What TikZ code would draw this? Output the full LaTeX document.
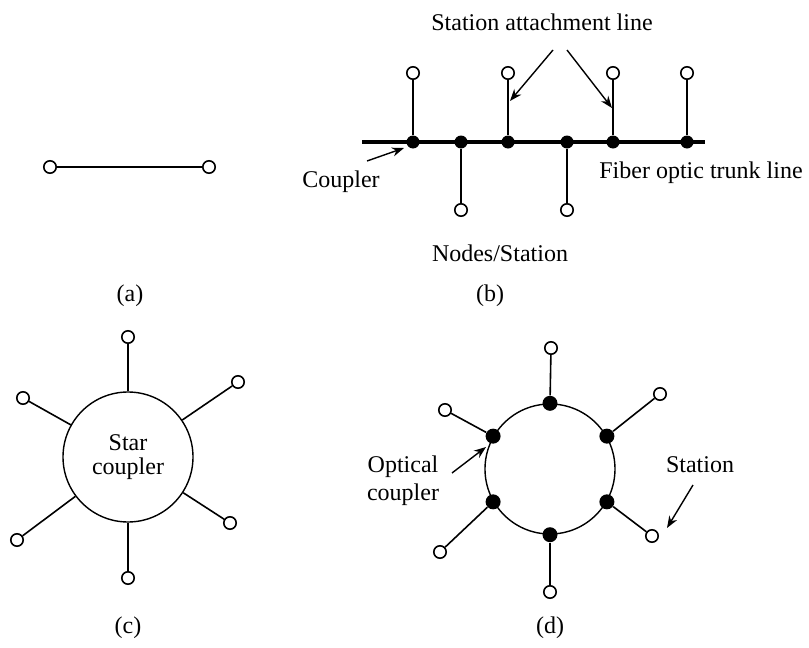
\documentclass[tikz,border=0pt]{standalone}
\usepackage{fontspec}
\setmainfont{Liberation Serif}
\usepackage{tikz}
\usetikzlibrary{arrows.meta, positioning}

\tikzset{
  station/.style={circle, draw, fill=white, line width=0.8pt, minimum size=6.2pt, inner sep=0pt},
  coupler/.style={circle, fill=black, minimum size=6.5pt, inner sep=0pt},
  ringcoupler/.style={circle, fill=black, minimum size=7.5pt, inner sep=0pt},
  link/.style={line width=0.8pt},
  pointer/.style={-{Stealth[length=6pt,width=4.5pt]}, line width=0.7pt},
  lbl/.style={font=\fontsize{12}{14}\selectfont, inner sep=0pt, align=center}
}

\begin{document}
\begin{tikzpicture}[x=0.5pt, y=-0.5pt]
    \useasboundingbox (0,0) rectangle (809,648);

    % (a) point to point
    \node[station] (a1) at (50,167) {};
    \node[station] (a2) at (209,167) {};
    \draw[link] (a1) -- (a2);
    \node[lbl] (capa) at (130,296) {(a)};

    % (b) bus
    \coordinate (tl) at (362,142);
    \coordinate (tr) at (705,142);
    \draw[line width=1.8pt] (tl) -- (tr);
    \node[coupler] (b1) at (413,142) {};
    \node[coupler] (b2) at (461,142) {};
    \node[coupler] (b3) at (508,142) {};
    \node[coupler] (b4) at (567,142) {};
    \node[coupler] (b5) at (613,142) {};
    \node[coupler] (b6) at (687,142) {};
    \node[station] (s1) at (413,73) {};
    \node[station] (s2) at (461,210) {};
    \node[station] (s3) at (508,73) {};
    \node[station] (s4) at (567,210) {};
    \node[station] (s5) at (613,73) {};
    \node[station] (s6) at (687,73) {};
    \foreach \i in {1,...,6}
        \draw[link] (b\i) -- (s\i);

    \node[lbl] (attach) at (542,22) {Station attachment line};
    \coordinate (at1) at (553,50);
    \coordinate (at2) at (567,50);
    \coordinate (ah1) at (510,101);
    \coordinate (ah2) at (612,108);
    \draw[pointer] (at1) -- (ah1);
    \draw[pointer] (at2) -- (ah2);

    \node[lbl] (coup) at (341,182) {Coupler};
    \coordinate (ct) at (367,161);
    \coordinate (ch) at (404,148);
    \draw[pointer] (ct) -- (ch);

    \node[lbl] (trunk) at (701,173) {Fiber optic trunk line};
    \node[lbl] (nodes) at (500,253) {Nodes/Station};
    \node[lbl] (capb) at (490,296) {(b)};

    % (c) star
    \node[circle, draw, line width=0.7pt, minimum size=65pt, inner sep=0pt, lbl] (star) at (128,457) {Star\\[-2pt]coupler};
    \node[station] (c1) at (128,337) {};
    \node[station] (c2) at (238,382) {};
    \node[station] (c3) at (23,398) {};
    \node[station] (c4) at (17,540) {};
    \node[station] (c5) at (230,523) {};
    \node[station] (c6) at (128,578) {};
    \foreach \i in {1,...,6}
        \draw[link] (star) -- (c\i);
    \node[lbl] (capc) at (128,628) {(c)};

    % (d) ring
    \node[circle, draw, line width=0.7pt, minimum size=65pt, inner sep=0pt] (ring) at (550,469) {};
    \node[ringcoupler] (r1) at (ring.90) {};
    \node[ringcoupler] (r2) at (ring.30) {};
    \node[ringcoupler] (r3) at (ring.150) {};
    \node[ringcoupler] (r4) at (ring.210) {};
    \node[ringcoupler] (r5) at (ring.330) {};
    \node[ringcoupler] (r6) at (ring.270) {};
    \node[station] (d1) at (551,348) {};
    \node[station] (d2) at (660,394) {};
    \node[station] (d3) at (445,410) {};
    \node[station] (d4) at (440,552) {};
    \node[station] (d5) at (652,536) {};
    \node[station] (d6) at (550,592) {};
    \foreach \i in {1,...,6}
        \draw[link] (r\i) -- (d\i);

    \node[lbl] (optic) at (403,481) {Optical\\coupler};
    \coordinate (ot) at (452,473);
    \coordinate (oh) at (486,447);
    \draw[pointer] (ot) -- (oh);

    \node[lbl] (stat) at (700,465) {Station};
    \coordinate (st) at (693,485);
    \coordinate (sh) at (667,528);
    \draw[pointer] (st) -- (sh);
    \node[lbl] (capd) at (550,628) {(d)};
\end{tikzpicture}
\end{document}
